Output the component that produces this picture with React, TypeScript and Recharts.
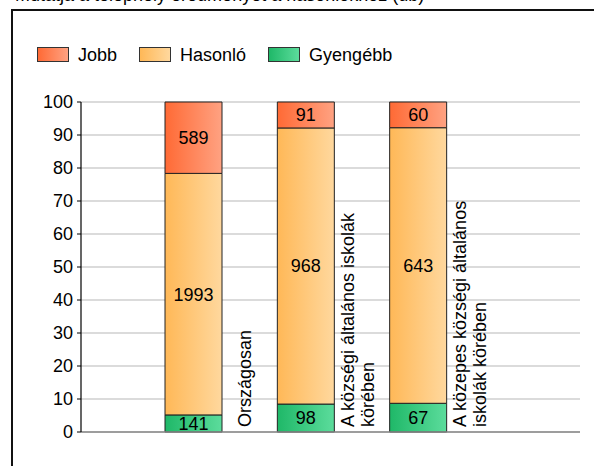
import React from 'react';
import { BarChart, Bar, XAxis, YAxis, CartesianGrid, LabelList, Legend } from 'recharts';

const categories = [
  'Országosan',
  'A községi általános iskolák körében',
  'A közepes községi általános iskolák körében',
];
const jobb = [589, 91, 60];
const hasonlo = [1993, 968, 643];
const gyengebb = [141, 98, 67];
const yTicks = [0, 0.1, 0.2, 0.3, 0.4, 0.5, 0.6, 0.7, 0.8, 0.9, 1];
const titleText = 'Mutatja a telephely eredményét a hasonlókhoz (db)';

const series = [
  { key: 'jobb', name: 'Jobb', id: 'gJobb', c1: '#ff6a35', c2: '#ffa282' },
  { key: 'hasonlo', name: 'Hasonló', id: 'gHas', c1: '#ffb857', c2: '#ffd89e' },
  { key: 'gyengebb', name: 'Gyengébb', id: 'gGy', c1: '#1fb868', c2: '#5cdc9c' },
];

const data = categories.map((name, i) => ({
  name,
  jobb: jobb[i],
  hasonlo: hasonlo[i],
  gyengebb: gyengebb[i],
}));

const FONT = "'Liberation Sans', Arial, sans-serif";

function wrap(text: string, max: number): string[] {
  const words = text.split(' ');
  const lines: string[] = [];
  let cur = '';
  for (const w of words) {
    const next = cur ? cur + ' ' + w : w;
    if (next.length > max && cur) {
      lines.push(cur);
      cur = w;
    } else {
      cur = next;
    }
  }
  if (cur) lines.push(cur);
  return lines;
}

const CategoryTick = (props: any) => {
  const { x, y, payload } = props;
  const lines = wrap(String(payload.value), 28);
  const n = lines.length;
  return (
    <g>
      {lines.map((ln, i) => {
        const bx = x + 58 + (i - (n - 1) / 2) * 20;
        return (
          <text
            key={i}
            transform={`translate(${bx},${y - 5}) rotate(-90)`}
            textAnchor="start"
            fontSize={18}
            fontFamily={FONT}
            fill="#000"
          >
            {ln}
          </text>
        );
      })}
    </g>
  );
};

const LegendContent = () => (
  <div style={{ display: 'flex', alignItems: 'center', fontFamily: FONT, fontSize: 18, lineHeight: '20px', color: '#000' }}>
    {series.map((s) => (
      <div key={s.key} style={{ display: 'flex', alignItems: 'center', marginRight: 22 }}>
        <span
          style={{
            display: 'inline-block',
            width: 32,
            height: 15,
            boxSizing: 'border-box',
            border: '1px solid #333',
            background: `linear-gradient(to right, ${s.c1}, ${s.c2})`,
            marginRight: 9,
          }}
        />
        <span>{s.name}</span>
      </div>
    ))}
  </div>
);

export default function App() {
  const stackOrder = [series[2], series[1], series[0]];
  return (
    <div style={{ position: 'fixed', left: 0, top: 0, width: 594, height: 466, overflow: 'hidden', background: '#fff' }}>
      <div
        style={{
          position: 'absolute',
          left: 15,
          top: -15,
          fontFamily: FONT,
          fontSize: 18,
          lineHeight: '20px',
          whiteSpace: 'nowrap',
          color: '#000',
        }}
      >
        {titleText}
      </div>
      <div
        style={{
          position: 'absolute',
          left: 11,
          top: 9,
          width: 700,
          height: 600,
          border: '2px solid #111',
          boxSizing: 'border-box',
        }}
      />
      <div style={{ position: 'absolute', left: 0, top: 0 }}>
        <BarChart
          width={594}
          height={466}
          data={data}
          stackOffset="expand"
          margin={{ top: 102, right: 14, left: 0, bottom: 4 }}
        >
          <defs>
            {series.map((s) => (
              <linearGradient key={s.id} id={s.id} x1="0" y1="0" x2="1" y2="0">
                <stop offset="0%" stopColor={s.c1} />
                <stop offset="100%" stopColor={s.c2} />
              </linearGradient>
            ))}
          </defs>
          <CartesianGrid vertical={false} stroke="#cfcfcf" strokeWidth={1.5} />
          <XAxis
            dataKey="name"
            type="category"
            padding={{ left: 56, right: 106 }}
            axisLine={{ stroke: '#888', strokeWidth: 1.5 }}
            tickLine={false}
            tickSize={0}
            tickMargin={0}
            height={30}
            interval={0}
            tick={<CategoryTick />}
          />
          <YAxis
            type="number"
            domain={[0, 1]}
            ticks={yTicks}
            tickFormatter={(v: number) => String(Math.round(v * 100))}
            width={81}
            axisLine={{ stroke: '#000', strokeWidth: 1.2 }}
            tickLine={{ stroke: '#000' }}
            tickSize={4}
            tickMargin={4}
            tick={{ fontSize: 18, fill: '#000', fontFamily: FONT }}
            interval={0}
          />
          <Legend
            layout="horizontal"
            verticalAlign="middle"
            align="center"
            wrapperStyle={{ top: 44.5, left: 37, width: 'auto' }}
            content={<LegendContent />}
          />
          {stackOrder.map((s) => (
            <Bar
              key={s.key}
              dataKey={s.key}
              name={s.name}
              stackId="a"
              barSize={57}
              fill={`url(#${s.id})`}
              stroke="#222"
              strokeWidth={1}
              isAnimationActive={false}
            >
              <LabelList dataKey={s.key} position="center" fill="#000" fontSize={18} fontFamily={FONT} />
            </Bar>
          ))}
        </BarChart>
      </div>
    </div>
  );
}
